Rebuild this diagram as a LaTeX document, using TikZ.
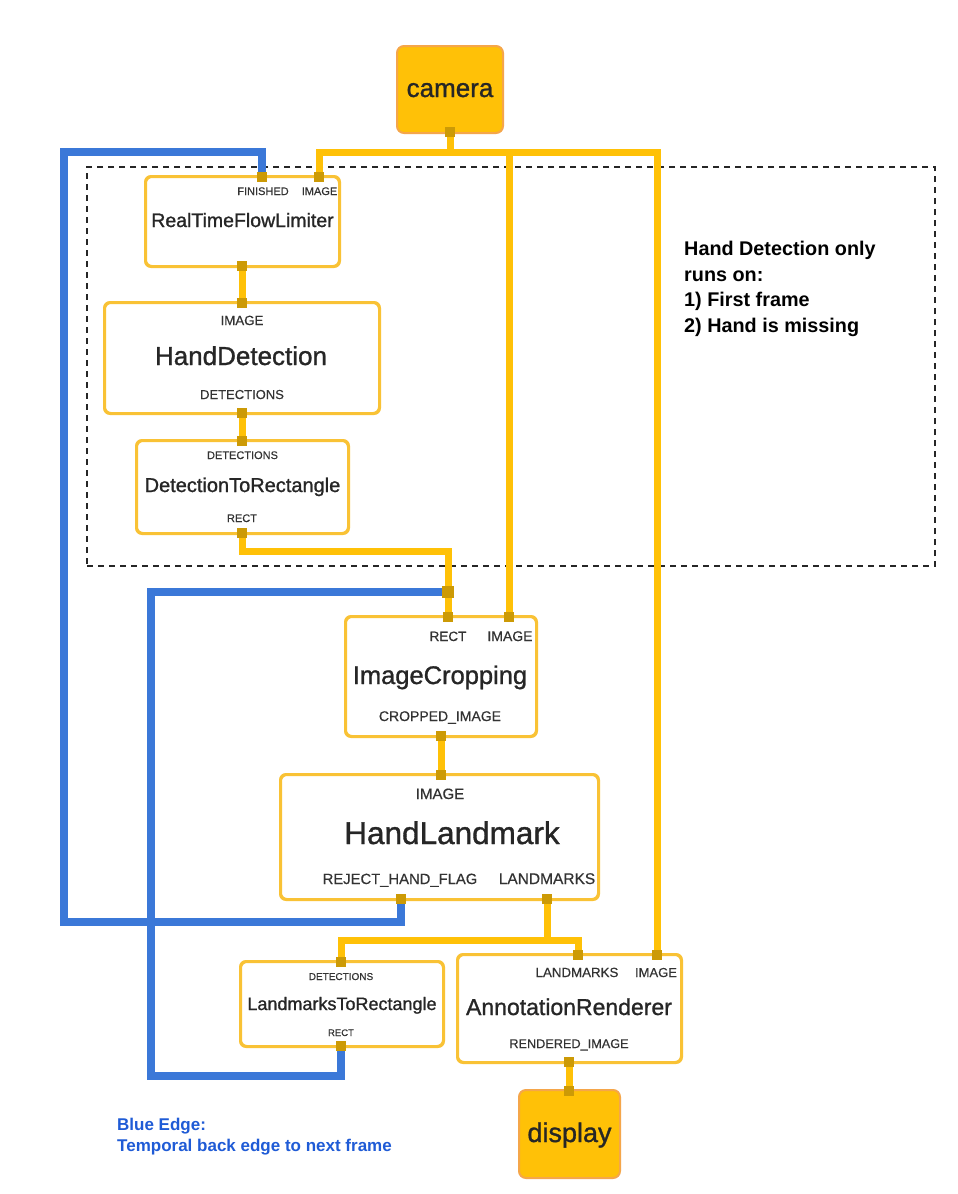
\documentclass[tikz,border=0pt]{standalone}
\usepackage{fontspec}
\setmainfont{Liberation Sans}
\newfontfamily\medfont[FakeBold=1.1]{Liberation Sans}
\newfontfamily\labfont[FakeBold=0.4]{Liberation Sans}
\definecolor{amber}{HTML}{FFC107}
\definecolor{portc}{HTML}{CC9A06}
\definecolor{boxc}{HTML}{F9C235}
\definecolor{camb}{HTML}{F5A64A}
\definecolor{blueline}{HTML}{3B78D8}
\definecolor{bluetxt}{HTML}{1F5BD6}
\definecolor{ttlc}{HTML}{262626}
\definecolor{labc}{HTML}{333333}
\tikzset{
  box/.style={draw=boxc, line width=2pt, rounded corners=6pt, fill=white, inner sep=0pt},
  srcbox/.style={draw=camb, line width=2pt, rounded corners=7pt, fill=amber, inner sep=0pt},
  port/.style={fill=portc, minimum size=10pt, inner sep=0pt},
  yline/.style={draw=amber, line width=7pt},
  bline/.style={draw=blueline, line width=8pt},
  dashbox/.style={draw=black!85, line width=1.3pt, dash pattern=on 6pt off 5pt, inner sep=0pt},
  lab/.style={font=\labfont\fontsize{#1}{#1}\selectfont, text=labc, inner sep=0pt, anchor=base},
  ttl/.style={font=\medfont\fontsize{#1}{#1}\selectfont, text=ttlc, inner sep=0pt, anchor=base},
}
\begin{document}
\begin{tikzpicture}[x=1pt,y=-1pt]
\useasboundingbox (0,0) rectangle (958,1194);
\fill[white] (0,0) rectangle (958,1194);

% group frame
\node[dashbox, minimum width=848pt, minimum height=399pt] (group) at (511,366.5) {};

% boxes
\node[srcbox, minimum width=104pt, minimum height=85pt] (cam) at (450,89.5) {};
\node[box, minimum width=193pt, minimum height=89pt] (rtfl) at (242.5,221.5) {};
\node[box, minimum width=274pt, minimum height=110pt] (hd) at (242,358) {};
\node[box, minimum width=211pt, minimum height=92pt] (dtr) at (242.5,487) {};
\node[box, minimum width=190pt, minimum height=119pt] (ic) at (441,676.5) {};
\node[box, minimum width=317pt, minimum height=124pt] (hl) at (439.5,837) {};
\node[box, minimum width=202pt, minimum height=84pt] (ltr) at (342,1004) {};
\node[box, minimum width=223pt, minimum height=107pt] (ar) at (569.5,1008.5) {};
\node[srcbox, minimum width=99pt, minimum height=86pt] (disp) at (569.5,1134) {};

% ports (positions)
\coordinate (cam-out) at (450,132);
\coordinate (rtfl-fin) at (262,177);
\coordinate (rtfl-img) at (319,177);
\coordinate (rtfl-out) at (242,266);
\coordinate (hd-in) at (242,303);
\coordinate (hd-out) at (242,413);
\coordinate (dtr-in) at (242,441);
\coordinate (dtr-out) at (242,533);
\coordinate (ic-rect) at (448,617);
\coordinate (ic-img) at (509,617);
\coordinate (ic-out) at (441,736);
\coordinate (hl-in) at (441,775);
\coordinate (hl-rej) at (401,899);
\coordinate (hl-lm) at (547,899);
\coordinate (ltr-in) at (341,962);
\coordinate (ltr-out) at (341,1046);
\coordinate (ar-lm) at (578,955);
\coordinate (ar-img) at (657,955);
\coordinate (ar-out) at (569,1062);
\coordinate (disp-in) at (569,1091);
\coordinate (junc) at (448,592);

% bends
\coordinate (bus) at (450,152);
\coordinate (bTL) at (64,152);
\coordinate (bBL) at (64,922);
\coordinate (bBR) at (151,1076);
\coordinate (dtrbend) at (242,551);
\coordinate (split) at (547,940);

% yellow connectors
\draw[yline] (cam-out) -- (bus) -| (rtfl-img);
\draw[yline] (bus) -| (ic-img);
\draw[yline] (bus) -| (ar-img);
\draw[yline] (rtfl-out) -- (hd-in);
\draw[yline] (hd-out) -- (dtr-in);
\draw[yline] (dtr-out) -- (dtrbend) -| (ic-rect);
\draw[yline] (ic-out) -- (hl-in);
\draw[yline] (hl-lm) -- (split) -| (ltr-in);
\draw[yline] (split) -| (ar-lm);
\draw[yline] (ar-out) -- (disp-in);

% blue back edges
\draw[bline] (hl-rej) |- (bBL) -- (bTL) -| (rtfl-fin);
\draw[bline] (ltr-out) |- (bBR) |- (junc);

% redraw box outlines over line ends
\foreach \b in {rtfl,hd,dtr,ic,hl,ltr,ar}{
  \draw[draw=boxc, line width=2pt, rounded corners=6pt] (\b.south west) rectangle (\b.north east);
}
\draw[draw=camb, line width=2pt, rounded corners=7pt, fill=amber] (cam.south west) rectangle (cam.north east);
\draw[draw=camb, line width=2pt, rounded corners=7pt, fill=amber] (disp.south west) rectangle (disp.north east);

% port squares
\foreach \p in {cam-out,rtfl-fin,rtfl-img,rtfl-out,hd-in,hd-out,dtr-in,dtr-out,ic-rect,ic-img,ic-out,hl-in,hl-rej,hl-lm,ltr-in,ltr-out,ar-lm,ar-img,ar-out,disp-in}{
  \node[port] (p-\p) at (\p) {};
}
\node[port, minimum size=12pt] (p-junc) at (junc) {};

% texts
\node[ttl=26] (t-cam) at (450,97) {camera};
\node[ttl=27] (t-disp) at (569.5,1142) {display};

\node[lab=11] (rtfl-l1) at (263,195) {FINISHED};
\node[lab=11] (rtfl-l2) at (319.5,195) {IMAGE};
\node[ttl=19.5] (rtfl-t) at (242.5,227) {RealTimeFlowLimiter};

\node[lab=13.3] (hd-l1) at (242,325) {IMAGE};
\node[ttl=26] (hd-t) at (241,365) {HandDetection};
\node[lab=13] (hd-l2) at (242,399) {DETECTIONS};

\node[lab=11] (dtr-l1) at (242.5,459) {DETECTIONS};
\node[ttl=20] (dtr-t) at (242.5,492) {DetectionToRectangle};
\node[lab=11] (dtr-l2) at (242,522) {RECT};

\node[lab=13.5] (ic-l1) at (448,641) {RECT};
\node[lab=14] (ic-l2) at (510,641) {IMAGE};
\node[ttl=25.5] (ic-t) at (440,684) {ImageCropping};
\node[lab=14] (ic-l3) at (440,721) {CROPPED\_IMAGE};

\node[lab=15] (hl-l1) at (440,799) {IMAGE};
\node[ttl=31.5] (hl-t) at (452,844) {HandLandmark};
\node[lab=14.8] (hl-l2) at (400,884) {REJECT\_HAND\_FLAG};
\node[lab=15.5] (hl-l3) at (547,884) {LANDMARKS};

\node[lab=10] (ltr-l1) at (341,980) {DETECTIONS};
\node[ttl=18] (ltr-t) at (342,1010) {LandmarksToRectangle};
\node[lab=9.5] (ltr-l2) at (341,1036) {RECT};

\node[lab=13.3] (ar-l1) at (577,977) {LANDMARKS};
\node[lab=13] (ar-l2) at (656,977) {IMAGE};
\node[ttl=23] (ar-t) at (569,1015) {AnnotationRenderer};
\node[lab=12.7] (ar-l3) at (569,1048) {RENDERED\_IMAGE};

% notes
\node[anchor=north west, align=left, inner sep=0pt, text=black,
      font=\bfseries\fontsize{19.8}{25.5}\selectfont] (note) at (684,241)
  {Hand Detection only\\runs on:\\1) First frame\\2) Hand is missing};
\node[anchor=north west, align=left, inner sep=0pt, text=bluetxt,
      font=\bfseries\fontsize{17}{21}\selectfont] (legend) at (117,1118)
  {Blue Edge:\\Temporal back edge to next frame};
\end{tikzpicture}
\end{document}
